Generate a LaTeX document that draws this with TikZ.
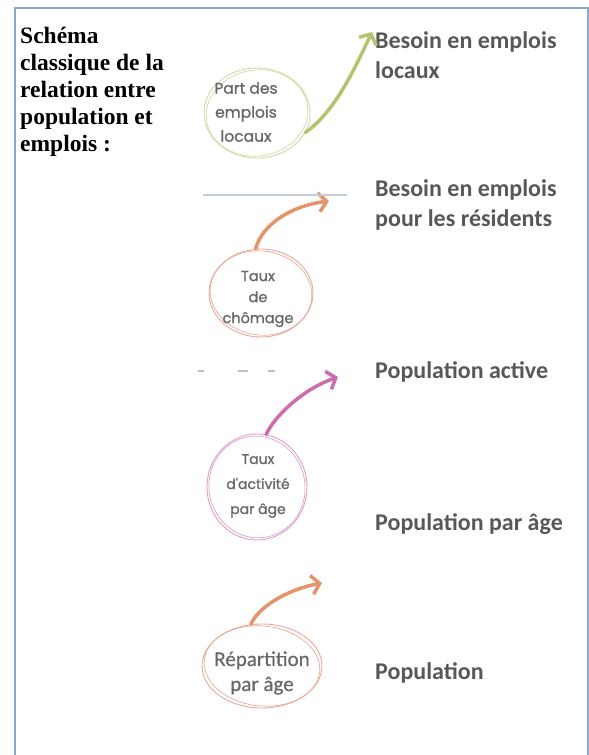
\documentclass[tikz,border=0pt]{standalone}
\usepackage{fontspec}
\setmainfont{Liberation Serif}
\newfontfamily\resultfont{Carlito}
\newfontfamily\factorfont[FakeBold=1.2]{Poppins}
\newfontfamily\factorsans[FakeBold=0.6]{Carlito}
\usetikzlibrary{arrows.meta,shapes.geometric}
\definecolor{frameblue}{RGB}{140,168,212}
\definecolor{resultgray}{RGB}{88,88,88}
\definecolor{factorgray}{RGB}{104,104,104}
\definecolor{leafgreen}{RGB}{178,196,112}
\definecolor{ringgreen}{RGB}{210,218,168}
\definecolor{salmon}{RGB}{228,148,106}
\definecolor{ringsalmon}{RGB}{230,170,152}
\definecolor{orchid}{RGB}{204,108,172}
\definecolor{ringorchid}{RGB}{224,158,202}
\definecolor{rulegray}{RGB}{196,204,224}
\tikzset{
  result/.style={anchor=west, align=left, inner sep=0pt, text=resultgray,
    font=\resultfont\bfseries\fontsize{24}{30}\selectfont},
  factor/.style={align=center, inner sep=0pt, text=factorgray,
    font=\factorfont\fontsize{14}{25}\selectfont},
  ring/.style={shape=ellipse, draw=#1, line width=.9pt, inner sep=0pt},
  swoosh/.style={line width=3.5pt, line cap=round, -{Straight Barb[length=8pt,width=19pt]}}
}

\begin{document}
\begin{tikzpicture}[x=1pt,y=-1pt]
    \useasboundingbox (0,0) rectangle (589,755);
    \draw[frameblue, line width=1.5pt] (15,755) -- (15,8) -- (588,8) -- (588,755);
    \node[anchor=north west, align=left, inner sep=0pt, font=\bfseries\fontsize{23.5}{27}\selectfont] (title) at (20,27)
      {Schéma\\classique de la\\relation entre\\population et\\emplois :};

    % ce que l'on cherche
    \node[result] (local) at (375,55) {Besoin en emplois\\locaux};
    \node[result] (resid) at (375,205) {Besoin en emplois\\pour les résidents};
    \node[result] (active) at (375,372) {Population active};
    \node[result] (byage) at (375,524) {Population par âge};
    \node[result] (pop) at (375,673) {Population};

    % les ratios entourés
    \node[ring=ringgreen, minimum width=106pt, minimum height=90pt] (part) at (257,113) {};
    \draw[ringgreen, line width=.7pt, rotate around={9:(part.center)}] (part.center) ellipse [x radius=51pt, y radius=43pt];
    \node[factor, font=\factorfont\fontsize{15.5}{24}\selectfont] (parttext) at (246,112) {Part des\\emplois\\locaux};

    \node[ring=ringsalmon, minimum width=104pt, minimum height=88pt] (chom) at (261,293) {};
    \draw[ringsalmon, line width=.7pt, rotate around={-8:(chom.center)}] (chom.center) ellipse [x radius=51pt, y radius=42pt];
    \node[factor, font=\factorfont\fontsize{14.5}{21}\selectfont] (chomtext) at (258,299) {Taux\\de\\chômage};

    \node[ring=ringorchid, minimum width=100pt, minimum height=106pt] (activ) at (257,487) {};
    \draw[ringorchid, line width=.7pt, rotate around={12:(activ.center)}] (activ.center) ellipse [x radius=48pt, y radius=51pt];
    \node[factor] (activtext) at (258,486) {Taux\\d'activité\\par âge};

    \node[ring=ringsalmon, minimum width=120pt, minimum height=84pt] (repart) at (262,666) {};
    \draw[ringsalmon, line width=.7pt, rotate around={-6:(repart.center)}] (repart.center) ellipse [x radius=58pt, y radius=40pt];
    \node[factor, font=\factorsans\fontsize{21}{25}\selectfont] (reparttext) at (262,673) {Répartition\\par âge};

    % flèches
    \coordinate (localtip) at (372,32);
    \coordinate (residtip) at (329,201);
    \coordinate (activetip) at (338,377);
    \coordinate (byagetip) at (322,583);
    \draw[swoosh, leafgreen] (part.-22) .. controls (335,112) and (355,68) .. (localtip);
    \draw[swoosh, salmon] (chom.97) .. controls (262,225) and (290,206) .. (residtip);
    \draw[swoosh, orchid] (activ.80) .. controls (272,420) and (300,390) .. (activetip);
    \draw[swoosh, salmon] (repart.105) .. controls (258,608) and (285,590) .. (byagetip);

    \draw[rulegray, line width=2pt] (203,195) -- (347,195);
    \draw[black!25, line width=1.2pt] (198,371) -- (204,371) (238,371) -- (248,371) (268,371) -- (275,371);
\end{tikzpicture}
\end{document}
